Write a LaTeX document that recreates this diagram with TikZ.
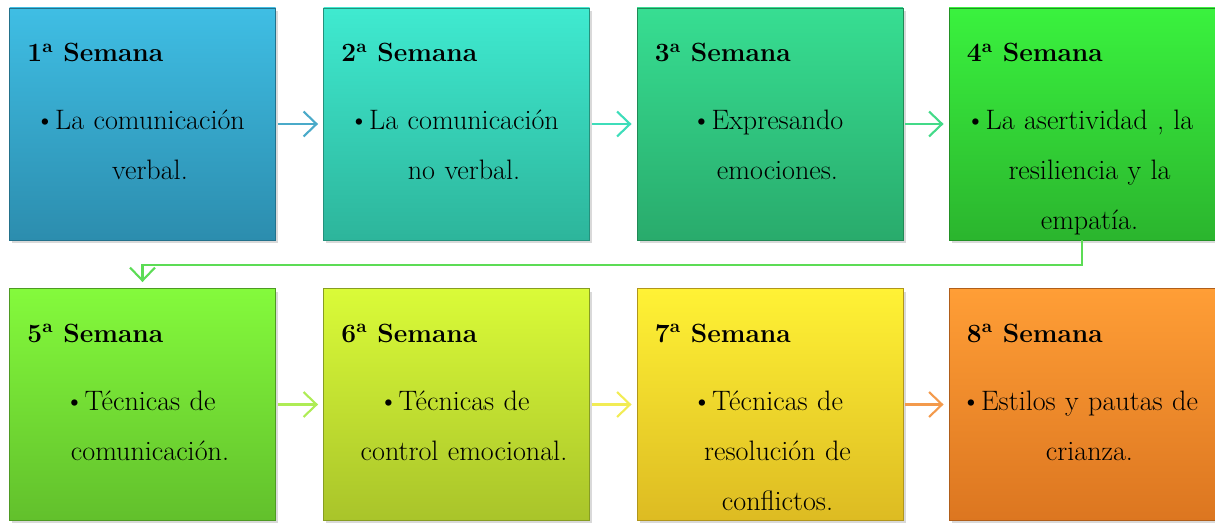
\documentclass[tikz,border=0pt]{standalone}
\usepackage{tikz}
\usetikzlibrary{arrows.meta, positioning, shadows}

\definecolor{w1top}{HTML}{3FBEE4}
\definecolor{w1bot}{HTML}{2C8DAE}
\definecolor{w2top}{HTML}{3FEAD0}
\definecolor{w2bot}{HTML}{2DB59B}
\definecolor{w3top}{HTML}{37DE92}
\definecolor{w3bot}{HTML}{29AB6C}
\definecolor{w4top}{HTML}{3AF23E}
\definecolor{w4bot}{HTML}{2BB52E}
\definecolor{w5top}{HTML}{84FA3C}
\definecolor{w5bot}{HTML}{62C02C}
\definecolor{w6top}{HTML}{DAFB38}
\definecolor{w6bot}{HTML}{A9C42A}
\definecolor{w7top}{HTML}{FFF235}
\definecolor{w7bot}{HTML}{DDBB22}
\definecolor{w8top}{HTML}{FF9E36}
\definecolor{w8bot}{HTML}{DC7620}
\definecolor{a1}{HTML}{4AAAC9}
\definecolor{a2}{HTML}{3EDDBA}
\definecolor{a3}{HTML}{43DA88}
\definecolor{a4}{HTML}{5CDC55}
\definecolor{a5}{HTML}{AEEC55}
\definecolor{a6}{HTML}{F2EC55}
\definecolor{a7}{HTML}{F39A4C}

\begin{document}
\begin{tikzpicture}[
  week/.style 2 args={rectangle, minimum width=5.32cm, minimum height=4.64cm, inner sep=0pt,
    top color=#1, bottom color=#2, draw=#2!80!black, line width=0.5pt,
    drop shadow={shadow xshift=0.05cm, shadow yshift=-0.06cm, opacity=0.3}},
  title/.style={anchor=base west, inner sep=0pt, font=\fontsize{15}{18}\selectfont\bfseries},
  body/.style={anchor=north, inner sep=0pt, text width=4.8cm, align=center,
    font=\fontsize{16}{28.45}\selectfont},
  arrow/.style={-{Straight Barb[length=2.6mm, width=5mm, line width=1.2pt]}, line width=1.2pt,
    shorten <=0.04cm, shorten >=0.1cm},
]
\useasboundingbox (0,0) rectangle (24.3,10.44);

% first row
\node[week={w1top}{w1bot}] (S1) at (2.85, 7.96) {};
\node[week={w2top}{w2bot}] (S2) at (9.13, 7.96) {};
\node[week={w3top}{w3bot}] (S3) at (15.40, 7.96) {};
\node[week={w4top}{w4bot}] (S4) at (21.64, 7.96) {};

% second row
\node[week={w5top}{w5bot}] (S5) at (2.85, 2.35) {};
\node[week={w6top}{w6bot}] (S6) at (9.13, 2.35) {};
\node[week={w7top}{w7bot}] (S7) at (15.40, 2.35) {};
\node[week={w8top}{w8bot}] (S8) at (21.64, 2.35) {};

% titles
\node[title] (T1) at ([xshift=0.36cm, yshift=-1.08cm]S1.north west) {1\textsuperscript{a} Semana};
\node[title] (T2) at ([xshift=0.36cm, yshift=-1.08cm]S2.north west) {2\textsuperscript{a} Semana};
\node[title] (T3) at ([xshift=0.36cm, yshift=-1.08cm]S3.north west) {3\textsuperscript{a} Semana};
\node[title] (T4) at ([xshift=0.36cm, yshift=-1.08cm]S4.north west) {4\textsuperscript{a} Semana};
\node[title] (T5) at ([xshift=0.36cm, yshift=-1.08cm]S5.north west) {5\textsuperscript{a} Semana};
\node[title] (T6) at ([xshift=0.36cm, yshift=-1.08cm]S6.north west) {6\textsuperscript{a} Semana};
\node[title] (T7) at ([xshift=0.36cm, yshift=-1.08cm]S7.north west) {7\textsuperscript{a} Semana};
\node[title] (T8) at ([xshift=0.36cm, yshift=-1.08cm]S8.north west) {8\textsuperscript{a} Semana};

% contents
\node[body] (B1) at ([xshift=0.15cm, yshift=-1.74cm]S1.north) {\strut\llap{\textbullet}La comunicación\\verbal.};
\node[body] (B2) at ([xshift=0.15cm, yshift=-1.74cm]S2.north) {\strut\llap{\textbullet}La comunicación\\no verbal.};
\node[body] (B3) at ([xshift=0.15cm, yshift=-1.74cm]S3.north) {\strut\llap{\textbullet}Expresando\\emociones.};
\node[body] (B4) at ([xshift=0.15cm, yshift=-1.74cm]S4.north) {\strut\llap{\textbullet}La asertividad , la\\resiliencia y la\\empatía.};
\node[body] (B5) at ([xshift=0.15cm, yshift=-1.74cm]S5.north) {\strut\llap{\textbullet}Técnicas de\\comunicación.};
\node[body] (B6) at ([xshift=0.15cm, yshift=-1.74cm]S6.north) {\strut\llap{\textbullet}Técnicas de\\control emocional.};
\node[body] (B7) at ([xshift=0.15cm, yshift=-1.74cm]S7.north) {\strut\llap{\textbullet}Técnicas de\\resolución de\\conflictos.};
\node[body] (B8) at ([xshift=0.15cm, yshift=-1.74cm]S8.north) {\strut\llap{\textbullet}Estilos y pautas de\\crianza.};

% connectors
\draw[arrow, a1] (S1) -- (S2);
\draw[arrow, a2] (S2) -- (S3);
\draw[arrow, a3] (S3) -- (S4);
\draw[arrow, a4, shorten <=0pt, shorten >=0.12cm] (S4.south) -- ++(0,-0.5) -| (S5.north);
\draw[arrow, a5] (S5) -- (S6);
\draw[arrow, a6] (S6) -- (S7);
\draw[arrow, a7] (S7) -- (S8);
\end{tikzpicture}
\end{document}
